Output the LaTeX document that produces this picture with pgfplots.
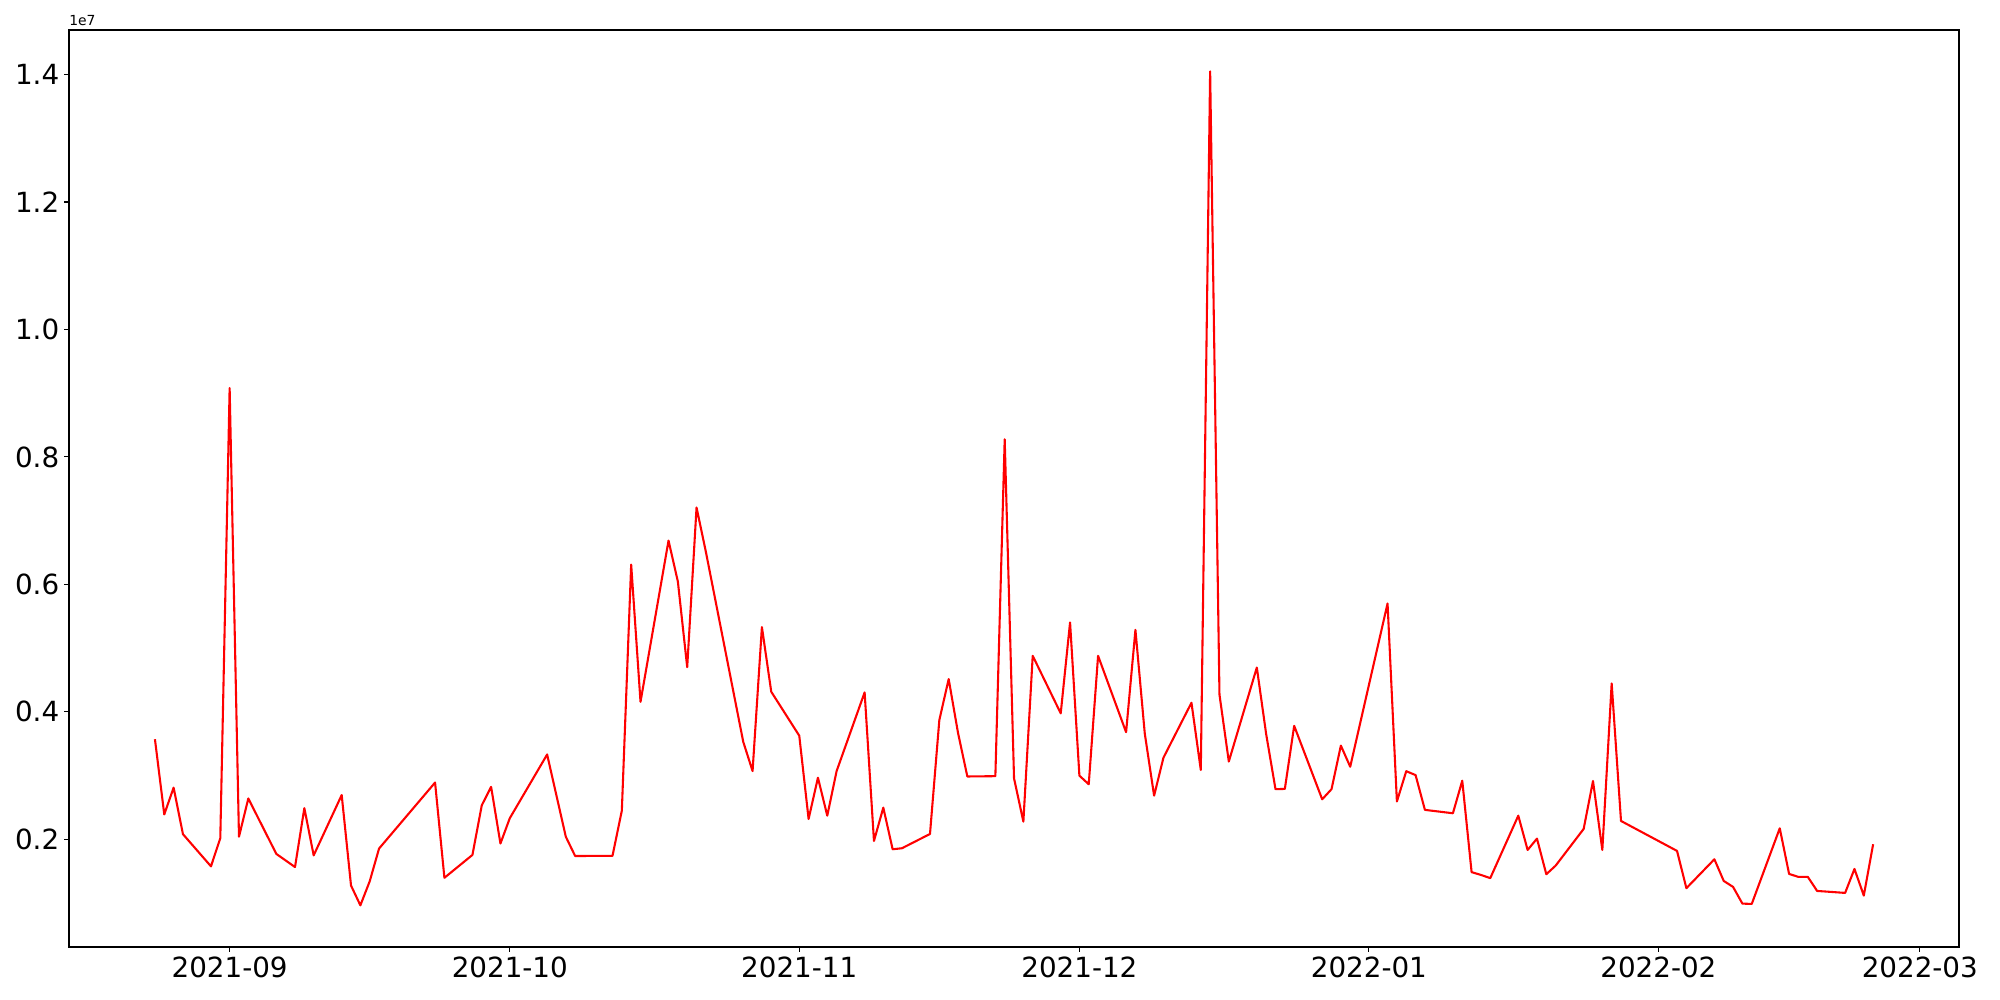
\documentclass[border=0pt]{standalone}
\usepackage{fontspec}
\setmainfont{DejaVu Sans}
\usepackage{pgfplots}
\pgfplotsset{compat=1.18}
\begin{document}
\begin{tikzpicture}
\begin{axis}[
  name=ax,
  at={(49.7pt,38.2pt)}, anchor=south west,
  scale only axis, width=1360.8pt, height=660.2pt,
  xmin=-17.2, xmax=185.2, ymin=0.031, ymax=1.470,
  xtick={0,30,61,91,122,153,181},
  xticklabels={2021-09,2021-10,2021-11,2021-12,2022-01,2022-02,2022-03},
  ytick={0.2,0.4,0.6,0.8,1.0,1.2,1.4},
  yticklabels={0.2,0.4,0.6,0.8,1.0,1.2,1.4},
  tick pos=left, tick align=outside, major tick length=3.5pt,
  every tick/.style={black, line width=0.8pt},
  axis line style={line width=0.8pt},
  ticklabel style={font=\fontsize{20}{24}\selectfont},
  /pgf/number format/assume math mode=true,
  clip=true,
]
\addplot[red, line width=1.5pt, line join=round, mark=none] coordinates {
(-8,0.357) (-7,0.239) (-6,0.281) (-5,0.208) (-2,0.1575) (-1,0.2017)
(0,0.908) (1,0.204) (2,0.264) (5,0.177) (7,0.1564) (8,0.2488) (9,0.1747)
(12,0.2694) (13,0.1273) (14,0.0963) (15,0.134) (16,0.1854)
(22,0.289) (23,0.1395) (26,0.1754) (27,0.2532) (28,0.2823) (29,0.1933) (30,0.233)
(34,0.333) (36,0.204) (37,0.1737) (41,0.174) (42,0.2449) (43,0.631) (44,0.4156)
(47,0.6687) (48,0.6044) (49,0.470) (50,0.7206) (51,0.651)
(55,0.353) (56,0.307) (57,0.533) (58,0.4315)
(61,0.3625) (62,0.2318) (63,0.2966) (64,0.237) (65,0.307)
(68,0.4305) (69,0.1973) (70,0.2496) (71,0.1843) (72,0.1859)
(75,0.2083) (76,0.387) (77,0.4514) (78,0.367) (79,0.2985)
(82,0.299) (83,0.8277) (84,0.2956) (85,0.2276) (86,0.4879)
(89,0.3976) (90,0.5403) (91,0.2998) (92,0.2863) (93,0.4879)
(96,0.368) (97,0.5287) (98,0.366) (99,0.2684) (100,0.328)
(103,0.4142) (104,0.3087) (105,1.405) (106,0.427) (107,0.322)
(110,0.4695) (111,0.365) (112,0.2786) (113,0.279) (114,0.378)
(117,0.2627) (118,0.2786) (119,0.347) (120,0.3138)
(124,0.570) (125,0.2593) (126,0.3068) (127,0.3007) (128,0.2461)
(131,0.2408) (132,0.2919) (133,0.1484) (134,0.144) (135,0.139)
(138,0.237) (139,0.1832) (140,0.201) (141,0.1451) (142,0.1586)
(145,0.2162) (146,0.2914) (147,0.1832) (148,0.4446) (149,0.2287)
(155,0.1817) (156,0.1232)
(159,0.1686) (160,0.1346) (161,0.1252) (162,0.099) (163,0.0985)
(166,0.2172) (167,0.1456) (168,0.1409) (169,0.141) (170,0.1189)
(173,0.1158) (174,0.1534) (175,0.1116) (176,0.1922)
};
\end{axis}
\node[anchor=base west, inner sep=0pt, font=\fontsize{10}{12}\selectfont] at ([yshift=3pt]ax.north west) {1e7};
\pgfresetboundingbox
\path[use as bounding box] (0,0) rectangle (1440pt,720pt);
\end{tikzpicture}
\end{document}
